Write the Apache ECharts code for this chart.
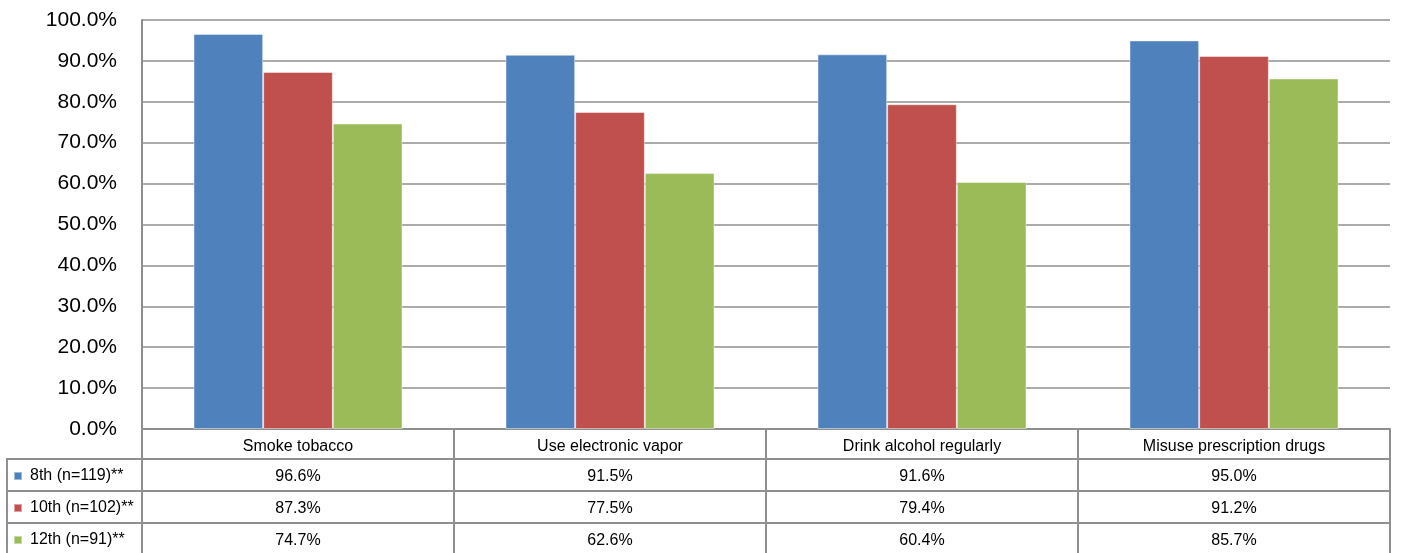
<!DOCTYPE html>
<html>
<head>
<meta charset="utf-8">
<script src="https://cdn.jsdelivr.net/npm/echarts@6/dist/echarts.min.js"></script>
<style>
html,body{margin:0;padding:0;background:#fff;}
#chart{width:1408px;height:553px;}
</style>
</head>
<body>
<div id="chart"></div>
<script>
const categories = ['Smoke tobacco', 'Use electronic vapor', 'Drink alcohol regularly', 'Misuse prescription drugs'];
const seriesNames = ['8th (n=119)**', '10th (n=102)**', '12th (n=91)**'];
const grade8 = [96.6, 91.5, 91.6, 95.0];
const grade10 = [87.3, 77.5, 79.4, 91.2];
const grade12 = [74.7, 62.6, 60.4, 85.7];
const yTicks = [0, 10, 20, 30, 40, 50, 60, 70, 80, 90, 100];

const seriesValues = [grade8, grade10, grade12];
const colors = ['#4f81bd', '#c0504d', '#9bbb59'];
const lineColor = '#8f8f8f';
const font = "'Liberation Sans', Arial, sans-serif";
const fmt = v => v.toFixed(1) + '%';

const rowOffsets = [0, 30, 62, 94];
const tickLens = [30, 32, 32, 40];
const legendTops = [467, 499, 531];

const xAxes = rowOffsets.map((off, i) => ({
  type: 'category',
  position: 'bottom',
  offset: off,
  data: i === 0 ? categories : seriesValues[i - 1].map(fmt),
  boundaryGap: true,
  axisLine: { show: true, lineStyle: { color: lineColor, width: 2 } },
  axisTick: { show: true, interval: 0, length: tickLens[i], lineStyle: { color: lineColor, width: 2 } },
  axisLabel: { interval: 0, margin: 10, fontSize: 16, color: '#000', fontFamily: font },
  splitLine: { show: false }
}));

const legends = seriesNames.map((name, i) => ({
  orient: 'vertical',
  left: 13,
  top: legendTops[i],
  padding: 0,
  itemWidth: 8,
  itemHeight: 8,
  icon: 'rect',
  data: [name],
  textStyle: { fontSize: 16, color: '#000', fontFamily: font, lineHeight: 18, padding: [0, 0, 0, 3] }
}));

const chart = echarts.init(document.getElementById('chart'));
chart.setOption({
  animation: false,
  color: colors,
  textStyle: { fontFamily: font },
  grid: { left: 142, right: 18, top: 20, bottom: 124, containLabel: false },
  legend: legends,
  xAxis: xAxes,
  yAxis: {
    type: 'value',
    min: yTicks[0],
    max: yTicks[yTicks.length - 1],
    interval: yTicks[1] - yTicks[0],
    axisLine: { show: true, lineStyle: { color: lineColor, width: 2 } },
    axisTick: { show: false },
    splitLine: { show: true, lineStyle: { color: lineColor, width: 1.5 } },
    axisLabel: { formatter: fmt, fontSize: 21, color: '#000', margin: 25, fontFamily: font }
  },
  series: seriesNames.map((name, i) => ({
    name: name,
    type: 'bar',
    xAxisIndex: 0,
    data: seriesValues[i],
    barGap: '0%',
    barCategoryGap: '33%',
    itemStyle: { color: colors[i], borderColor: 'rgba(255,255,255,0.45)', borderWidth: 1 }
  })),
  graphic: [
    { type: 'line', shape: { x1: 7, y1: 459, x2: 142, y2: 459 }, style: { stroke: lineColor, lineWidth: 2 } },
    { type: 'line', shape: { x1: 7, y1: 491, x2: 142, y2: 491 }, style: { stroke: lineColor, lineWidth: 2 } },
    { type: 'line', shape: { x1: 7, y1: 523, x2: 142, y2: 523 }, style: { stroke: lineColor, lineWidth: 2 } },
    { type: 'line', shape: { x1: 7, y1: 458, x2: 7, y2: 553 }, style: { stroke: lineColor, lineWidth: 2 } }
  ]
});
</script>
</body>
</html>
